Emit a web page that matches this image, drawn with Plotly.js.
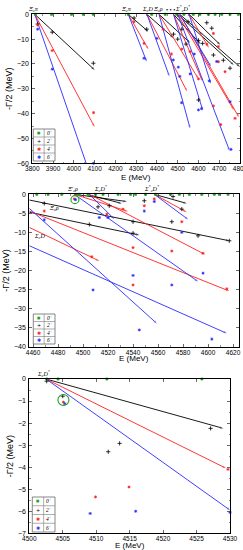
<!DOCTYPE html>
<html><head><meta charset="utf-8">
<script src="https://cdn.plot.ly/plotly-3.0.1.min.js"></script>
<style>html,body{margin:0;padding:0;background:#fff}#chart{width:243px;height:550px}</style>
</head><body><div id="chart"></div>
<script>
// ---------- DATA ----------
// segments: [E0, G0, E1, G1]   (G = -Gamma/2)
const p1Black = [[3812,0,4100,-22.4],[4262,0,4359,-7.0],[4352,0,4480,-9.5],[4410,0,4560,-11.5],[4480,0,4610,-12.0],[4500,0,4770,-20.4],[4510,0,4800,-21.2],[4555,0,4705,-12.3]];
const p1Red   = [[3812,0,4100,-45.4],[4262,0,4359,-14.1],[4352,0,4545,-31.0],[4410,0,4600,-26.0],[4480,0,4620,-27.0],[4500,0,4770,-38.5],[4510,0,4795,-41.5],[4555,0,4650,-13.5]];
const p1Blue  = [[3812,0,4080,-65],[4262,0,4351,-19.1],[4352,0,4460,-25.0],[4410,0,4560,-46.0],[4480,0,4620,-38.5],[4500,0,4750,-55.0],[4510,0,4660,-21.0],[4555,0,4660,-28.0]];
const p1GreenE = [3815,3893,3989,4046,4094,4262,4375,4440,4495,4530,4575,4607,4648,4680,4712,4752,4792];
const p1BlackE = [3826,3896,4094,4351,4290,4480,4500,4520,4540,4550,4600,4620,4640,4664,4672,4600,4720,4752];
const p1BlackG = [-3.9,-7.2,-19.7,-6.0,-1.5,-8,-10,-6,-12,-3,-10.5,-11.7,-3.4,-5.6,-16.4,-34.5,-18.5,-21.7];
const p1RedE = [3826,3896,4095,4338,4290,4430,4470,4520,4560,4600,4640,4672,4696,4696,4728,4707,4672,4776];
const p1RedG = [-4.3,-14.6,-39.6,-11.7,-3,-6,-16,-14,-15,-26,-12,-7.7,-13,-19.1,-23.1,-44.4,-36.9,-41.9];
const p1BlueE = [3826,3896,4095,4338,4400,4479,4503,4510,4519,4560,4580,4600,4615,4652,4688,4752,4757];
const p1BlueG = [-6.0,-22.1,-60,-17.7,-9.7,-18.4,-21.3,-25,-35.6,-24,-16,-38.5,-38,-26.8,-19,-35.2,-54.4];

const p2Black = [[4457,-1.5,4617,-12.2],[4457,-4.7,4545,-10.7],[4493,0,4535,-1.9],[4503,0,4531,-2.4],[4557,0,4583,-2.4]];
const p2Red   = [[4457,-4.4,4617,-25.4],[4457,-8.7,4513,-17.5],[4493,0,4536,-4.5],[4505,0,4597,-15.7],[4557,0,4583,-4.7]];
const p2Blue  = [[4457,-3.7,4559,-33.9],[4457,-13.5,4615,-36.5],[4493,0,4592,-22.9],[4505,0,4525,-6.5],[4557,0,4584,-6.6]];
const p2GreenE = [4463,4472,4483,4497,4504,4510,4516,4528,4538,4542,4550,4558,4570,4577,4585,4595,4605,4609,4616];
const p2BlackE = [4469,4505,4540,4540,4549,4579,4571,4592,4617,4521,4572,4512];
const p2BlackG = [-2.4,-7.9,-7.2,-10.2,-1.7,-3.9,-7.2,-10.9,-12.2,-3.0,-0.6,-3.3];
const p2RedE = [4469,4507,4519,4532,4540,4540,4549,4571,4579,4596,4615,4557,4493];
const p2RedG = [-4.4,-16.4,-5.2,-3.9,-14.0,-23.8,-3.0,-14.9,-7.2,-15.5,-24.8,-1.2,-1.2];
const p2BlueE = [4469,4508,4513,4520,4540,4545,4549,4557,4571,4579,4596,4603,4494];
const p2BlueG = [-6.7,-25.1,-6.1,-6.1,-21.3,-35.6,-4.4,-1.9,-23.8,-10.0,-20.7,-38.0,-1.4];

const p3Black = [[4502.5,0,4529.0,-2.24]];
const p3Red   = [[4502.5,0,4529.4,-4.05]];
const p3Blue  = [[4502.5,0,4530.0,-5.95]];
const p3GreenE = [4502.6,4504.3,4511.6,4525.8];
const p3BlackE = [4502.6,4505.0,4511.8,4513.5,4527.1];
const p3BlackG = [-0.1,-0.78,-3.3,-2.92,-2.24];
const p3RedE = [4505.1,4509.9,4514.9,4529.7];
const p3RedG = [-1.05,-5.35,-4.9,-4.1];
const p3BlueE = [4505.3,4509.1,4515.9,4530.0];
const p3BlueG = [-1.12,-6.1,-6.0,-6.05];

const legendLabels = ['0<sup>+</sup>','2<sup>+</sup>','4<sup>+</sup>','6<sup>+</sup>'];
const colors = {g:'#1aa51a', k:'#000000', r:'#ff2020', b:'#2a2aff'};

// ---------- BUILD ----------
const W = 243, H = 550;
const px = v => v / W, py = v => 1 - v / H;
const traces = [];
function segTrace(segs, color, xa, ya) {
  const x = [], y = [], sym = [], sz = [];
  segs.forEach(s => { x.push(s[0], s[2], null); y.push(s[1], s[3], null); sym.push('circle','arrow','circle'); sz.push(0,3.5,0); });
  traces.push({type:'scatter', mode:'lines+markers', x, y, xaxis:xa, yaxis:ya, showlegend:false,
    line:{color, width:0.9}, marker:{symbol:sym, size:sz, color, angleref:'previous', line:{width:0}}, hoverinfo:'skip'});
}
function ptTrace(xs, ys, color, symbol, size, xa, ya) {
  traces.push({type:'scatter', mode:'markers', x:xs, y:ys, xaxis:xa, yaxis:ya, showlegend:false, cliponaxis:false,
    marker:{symbol, size, color, line:{width:0.8, color}}, hoverinfo:'skip'});
}
const panels = [
  {xa:'x', ya:'y', blk:p1Black, red:p1Red, blu:p1Blue, gE:p1GreenE, kE:p1BlackE, kG:p1BlackG, rE:p1RedE, rG:p1RedG, bE:p1BlueE, bG:p1BlueG},
  {xa:'x2', ya:'y2', blk:p2Black, red:p2Red, blu:p2Blue, gE:p2GreenE, kE:p2BlackE, kG:p2BlackG, rE:p2RedE, rG:p2RedG, bE:p2BlueE, bG:p2BlueG},
  {xa:'x3', ya:'y3', blk:p3Black, red:p3Red, blu:p3Blue, gE:p3GreenE, kE:p3BlackE, kG:p3BlackG, rE:p3RedE, rG:p3RedG, bE:p3BlueE, bG:p3BlueG}
];
panels.forEach(p => {
  segTrace(p.blk, colors.k, p.xa, p.ya);
  segTrace(p.red, colors.r, p.xa, p.ya);
  segTrace(p.blu, colors.b, p.xa, p.ya);
  ptTrace(p.gE, p.gE.map(() => 0), colors.g, 'square', 2, p.xa, p.ya);
  ptTrace(p.kE, p.kG, colors.k, 'cross-thin', 3, p.xa, p.ya);
  ptTrace(p.rE, p.rG, colors.r, 'asterisk', 2.5, p.xa, p.ya);
  ptTrace(p.bE, p.bG, colors.b, 'asterisk', 2.5, p.xa, p.ya);
});
// green circles highlighting a pole
traces.push({type:'scatter', mode:'markers', x:[4493.5], y:[-1.4], xaxis:'x2', yaxis:'y2', showlegend:false,
  marker:{symbol:'circle-open', size:8, color:colors.g, line:{width:1.1, color:colors.g}}, hoverinfo:'skip'});
traces.push({type:'scatter', mode:'markers', x:[4505.1], y:[-0.95], xaxis:'x3', yaxis:'y3', showlegend:false,
  marker:{symbol:'circle-open', size:11, color:colors.g, line:{width:1.1, color:colors.g}}, hoverinfo:'skip'});

const tickFont = {family:'Liberation Sans, Arial, sans-serif', size:7, color:'#000'};
const xTickFont = {family:'Liberation Sans, Arial, sans-serif', size:6.5, color:'#000'};
const titleFont = {family:'Liberation Sans, Arial, sans-serif', size:8, color:'#000'};
function xax(domain, range, dtick, anchor) {
  return {domain, range, dtick, tick0:range[0] - (range[0] % dtick), anchor, ticks:'inside', ticklen:3, tickwidth:0.8, mirror:'allticks',
    showline:true, linecolor:'#000', linewidth:1, showgrid:false, zeroline:false, tickfont:xTickFont, ticklabeloverflow:'allow', ticklabelstandoff:-1,
    minor:{ticks:'inside', ticklen:1.5, tickwidth:0.6, nticks:2, showgrid:false}, automargin:false};
}
function yax(domain, range, dtick, anchor) {
  return {domain, range, dtick, anchor, ticks:'inside', ticklen:3, tickwidth:0.8, mirror:'allticks',
    showline:true, linecolor:'#000', linewidth:1, showgrid:false, zeroline:false, tickfont:tickFont, ticklabeloverflow:'allow', ticklabelstandoff:1,
    minor:{ticks:'inside', ticklen:1.5, tickwidth:0.6, nticks:2, showgrid:false},
    title:{text:'-Γ/2 (MeV)', font:{...titleFont, size:9}, standoff:2}, automargin:false};
}
const layout = {
  width:W, height:H, margin:{l:0,r:0,t:0,b:0}, paper_bgcolor:'#fff', plot_bgcolor:'#fff', showlegend:false,
  xaxis: xax([px(32.3), px(240)], [3800,4800], 100, 'y'),
  yaxis: yax([py(163.3), py(14.3)], [-60,0], 10, 'x'),
  xaxis2: xax([px(29.3), px(239.3)], [4457,4625], 20, 'y2'),
  yaxis2: yax([py(346.7), py(194.3)], [-40,0], 5, 'x2'),
  xaxis3: xax([px(29.3), px(230)], [4500,4530], 5, 'y3'),
  yaxis3: yax([py(533.3), py(379)], [-7,0], 1, 'x3'),
  shapes: [], annotations: []
};
// x-axis titles, placed just under the tick labels
[[136, 177.5], [134, 358.5], [130, 545.3]].forEach(t => {
  layout.annotations.push({text:'E (MeV)', x:px(t[0]), y:py(t[1]), xref:'paper', yref:'paper', showarrow:false, font:titleFont, xanchor:'center', yanchor:'middle'});
});
const labFont = {family:'Liberation Serif, Times New Roman, serif', size:6, color:'#000'};
function lab(text, x, y, xa, ya, yshift) {
  layout.annotations.push({text, x, y, xref:xa, yref:ya, showarrow:false, font:labFont, yshift:yshift||0, xanchor:'center', yanchor:'bottom'});
}
// threshold labels
lab('<i>Ξ<sub>c</sub>π</i>', 3808, 0, 'x', 'y', -1);
lab('<i>Ξ<sub>c</sub>π</i>', 4254, 0, 'x', 'y', -1);
lab('<i>Σ<sub>c</sub>D</i>', 4354, 0, 'x', 'y', -1);
lab('<i>Ξ<sub>c</sub>ρ</i>', 4407, 0, 'x', 'y', -1);
lab('• • •', 4467, 0, 'x', 'y', -1);
lab('<i>Σ<sup>*</sup><sub>c</sub>D<sup>*</sup></i>', 4527, 0, 'x', 'y', -1);
lab('<i>Ξ\'<sub>c</sub>ρ</i>', 4492, 0, 'x2', 'y2', -1);
lab('<i>Σ<sub>c</sub>D<sup>*</sup></i>', 4514, 0, 'x2', 'y2', -1);
lab('<i>Σ<sup>*</sup><sub>c</sub>D<sup>*</sup></i>', 4555, 0, 'x2', 'y2', -1);
lab('<i>Ξ<sub>c</sub>ρ</i>', 4477, -5.2, 'x2', 'y2', 0);
lab('<i>Σ<sub>c</sub>D</i>', 4465, -12.6, 'x2', 'y2', 0);
lab('<i>Σ<sub>c</sub>D<sup>*</sup></i>', 4502.2, 0, 'x3', 'y3', -1);

// custom legend boxes (pixel geometry)
const legBoxes = [[33.3,55,129,161],[33.3,55,314,344],[32.3,55,497,532]];
const glyphs = [['■',colors.g],['+',colors.k],['✱',colors.r],['✱',colors.b]];
legBoxes.forEach(b => {
  const [x0,x1,y0,y1] = b, rh = (y1 - y0) / 4, xd = x0 + (x1 - x0) * 0.5;
  layout.shapes.push({type:'rect', xref:'paper', yref:'paper', x0:px(x0), x1:px(x1), y0:py(y0), y1:py(y1), line:{color:'#555', width:0.7}, fillcolor:'#fff', layer:'above'});
  layout.shapes.push({type:'line', xref:'paper', yref:'paper', x0:px(xd), x1:px(xd), y0:py(y0), y1:py(y1), line:{color:'#777', width:0.6}, layer:'above'});
  for (let i = 1; i < 4; i++) layout.shapes.push({type:'line', xref:'paper', yref:'paper', x0:px(x0), x1:px(x1), y0:py(y0+rh*i), y1:py(y0+rh*i), line:{color:'#777', width:0.6}, layer:'above'});
  for (let i = 0; i < 4; i++) {
    const yc = y0 + rh * (i + 0.5);
    layout.annotations.push({text:glyphs[i][0], x:px((x0+xd)/2), y:py(yc), xref:'paper', yref:'paper', showarrow:false, font:{size:i===0?3.5:5, color:glyphs[i][1], family:'DejaVu Sans'}, xanchor:'center', yanchor:'middle'});
    layout.annotations.push({text:'<i>'+legendLabels[i]+'</i>', x:px((xd+x1)/2), y:py(yc), xref:'paper', yref:'paper', showarrow:false, font:{size:5.5, color:'#000', family:'Liberation Serif'}, xanchor:'center', yanchor:'middle'});
  }
});

Plotly.newPlot('chart', traces, layout, {staticPlot:true, displayModeBar:false});
</script></body></html>
